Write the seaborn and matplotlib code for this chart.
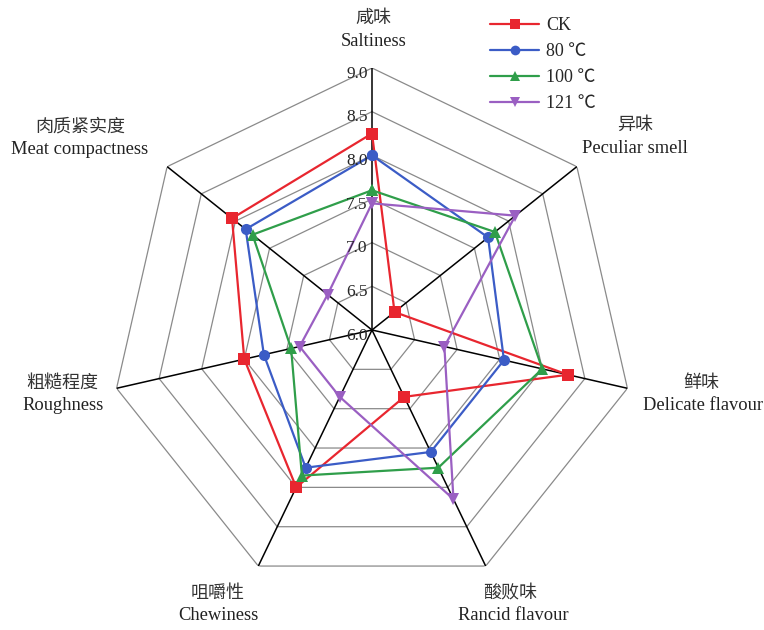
import numpy as np
import pandas as pd
import seaborn as sns
import matplotlib.pyplot as plt
import matplotlib.transforms as mtransforms

# attribute names (Chinese / English)
labels_cn = ['咸味', '异味', '鲜味', '酸败味', '咀嚼性', '粗糙程度', '肉质紧实度']
labels_en = ['Saltiness', 'Peculiar smell', 'Delicate flavour', 'Rancid flavour',
             'Chewiness', 'Roughness', 'Meat compactness']

groups = ['CK', '80 ℃', '100 ℃', '121 ℃']
ck = [8.25, 6.33, 8.3, 6.85, 8.0, 7.5, 8.05]
t80 = [8.0, 7.7, 7.55, 7.55, 7.75, 7.27, 7.85]
t100 = [7.6, 7.8, 8.0, 7.75, 7.85, 6.95, 7.75]
t121 = [7.45, 8.1, 6.85, 8.15, 6.85, 6.85, 6.65]

ticks = [6.0, 6.5, 7.0, 7.5, 8.0, 8.5, 9.0]

sns.set_style('white')
plt.rcParams['font.family'] = ['Liberation Serif', 'Noto Sans CJK SC']

n = len(labels_en)
theta = np.linspace(0, 2 * np.pi, n + 1)

rows = []
for g, vals in zip(groups, [ck, t80, t100, t121]):
    closed = list(vals) + [vals[0]]
    for t, v in zip(theta, closed):
        rows.append({'theta': t, 'score': v, 'group': g})
df = pd.DataFrame(rows)

fig = plt.figure(figsize=(7.64, 6.3), dpi=100)
ax = fig.add_axes([110 / 764, 38 / 630, 524 / 764, 524 / 630], projection='polar')
ax.set_theta_offset(np.pi / 2)
ax.set_theta_direction(-1)
ax.set_ylim(6, 9)
ax.grid(False)
ax.spines['polar'].set_visible(False)
ax.set_xticks([])
ax.set_yticks([])

# heptagon grid
for r in ticks[1:]:
    ax.plot(theta, [r] * (n + 1), color='#8a8a8a', lw=0.9, zorder=1)
for t in theta[:-1]:
    ax.plot([t, t], [6, 9], color='black', lw=1.1, zorder=2)

palette = ['#e8262f', '#3b5cc6', '#2f9e4a', '#9a5fc2']
sns.lineplot(data=df, x='theta', y='score', hue='group', style='group',
             palette=palette, markers=['s', 'o', '^', 'v'], dashes=False,
             estimator=None, sort=False, lw=1.6, markersize=8,
             markeredgewidth=0, ax=ax, zorder=3)
ax.set_xlabel('')
ax.set_ylabel('')

# radial tick labels along the top axis
off = mtransforms.offset_copy(ax.transData, fig=fig, x=-3, y=-4, units='points')
for v in ticks:
    ax.text(0, v, f'{v:.1f}', ha='right', va='center', fontsize=12.5,
            transform=off, zorder=4)

# axis labels (figure pixel positions)
label_pos = [(373, 18, 374, 42), (635, 125, 635, 148), (701, 383, 703, 406),
             (510, 593, 513, 616), (218, 593, 218, 616), (62, 383, 63, 406),
             (80, 127, 80, 149)]
for cn, en, (xc, yc, xe, ye) in zip(labels_cn, labels_en, label_pos):
    fig.text(xc / 764, 1 - yc / 630, cn, ha='center', va='center', fontsize=13,
             family=['Noto Sans CJK SC'], color='#333333')
    fig.text(xe / 764, 1 - ye / 630, en, ha='center', va='center', fontsize=13.3,
             color='#222222')

handles, labs = ax.get_legend_handles_labels()
for h in handles:
    h.set_markersize(7)
ax.legend(handles, labs, loc='upper left', bbox_to_anchor=(474 / 764, 1 - 1 / 630),
          bbox_transform=fig.transFigure, frameon=False, fontsize=13,
          handlelength=2.7, labelspacing=0.5, handletextpad=0.4)

fig.savefig('out.png', dpi=100)
